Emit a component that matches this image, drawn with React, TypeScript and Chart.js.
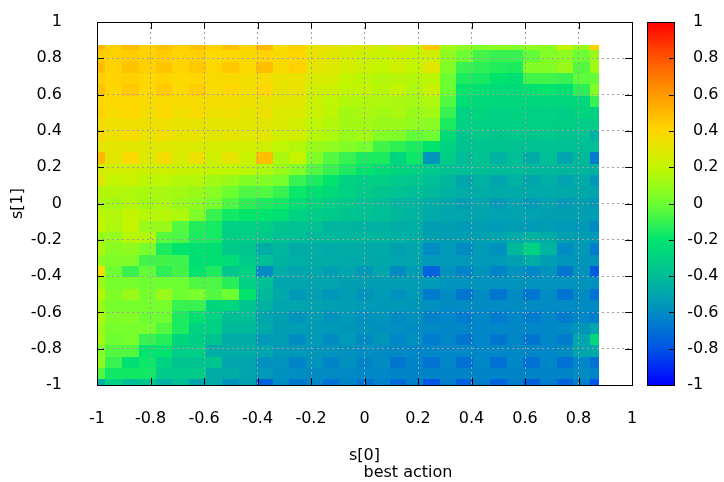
import { useEffect, useRef } from 'react';
import { Chart, registerables } from 'chart.js';

Chart.register(...registerables);

// Sample grid: s[0] columns (left to right) and s[1] rows (top to bottom)
const xCenters = [-1, -0.9375, -0.875, -0.8125, -0.75, -0.6875, -0.625, -0.5625, -0.5, -0.4375, -0.375, -0.3125, -0.25, -0.1875, -0.125, -0.0625, 0, 0.0625, 0.125, 0.1875, 0.25, 0.3125, 0.375, 0.4375, 0.5, 0.5625, 0.625, 0.6875, 0.75, 0.8125, 0.875];
const yCenters = [0.875, 0.8125, 0.75, 0.6875, 0.625, 0.5625, 0.5, 0.4375, 0.375, 0.3125, 0.25, 0.1875, 0.125, 0.0625, 0, -0.0625, -0.125, -0.1875, -0.25, -0.3125, -0.375, -0.4375, -0.5, -0.5625, -0.625, -0.6875, -0.75, -0.8125, -0.875, -0.9375, -1];

// Best-action value per grid row (one array per s[1] value)
const zRow00 = [0.5, 0.42, 0.48, 0.42, 0.47, 0.42, 0.47, 0.41, 0.47, 0.41, 0.5, 0.37, 0.42, 0.33, 0.32, 0.27, 0.28, 0.22, 0.28, 0.22, 0.45, 0.12, 0.08, 0.04, 0.06, 0.04, 0.08, 0.06, 0.2, 0.1, 0.42];
const zRow01 = [0.43, 0.42, 0.43, 0.42, 0.43, 0.41, 0.42, 0.39, 0.4, 0.38, 0.41, 0.38, 0.4, 0.33, 0.3, 0.26, 0.23, 0.22, 0.23, 0.21, 0.24, 0.08, 0.0, -0.08, -0.1, -0.1, -0.02, 0.05, 0.07, 0.0, 0.1];
const zRow02 = [0.49, 0.42, 0.47, 0.42, 0.46, 0.41, 0.45, 0.4, 0.45, 0.39, 0.48, 0.38, 0.42, 0.31, 0.29, 0.25, 0.23, 0.2, 0.24, 0.2, 0.3, 0.05, -0.1, -0.12, -0.14, -0.15, 0.05, 0.05, 0.1, -0.05, 0.12];
const zRow03 = [0.42, 0.41, 0.42, 0.4, 0.41, 0.39, 0.4, 0.38, 0.38, 0.36, 0.37, 0.33, 0.33, 0.27, 0.26, 0.2, 0.18, 0.16, 0.17, 0.16, 0.18, 0.0, -0.15, -0.16, -0.2, -0.22, -0.08, -0.08, -0.1, -0.03, -0.02];
const zRow04 = [0.47, 0.4, 0.45, 0.39, 0.44, 0.39, 0.43, 0.37, 0.4, 0.35, 0.4, 0.32, 0.33, 0.24, 0.23, 0.19, 0.2, 0.17, 0.2, 0.15, 0.22, 0.0, -0.2, -0.22, -0.25, -0.25, -0.22, -0.2, -0.22, -0.12, 0.05];
const zRow05 = [0.4, 0.39, 0.4, 0.38, 0.38, 0.37, 0.37, 0.36, 0.36, 0.34, 0.33, 0.31, 0.3, 0.22, 0.19, 0.16, 0.15, 0.15, 0.14, 0.13, 0.15, -0.05, -0.24, -0.26, -0.27, -0.27, -0.27, -0.27, -0.27, -0.27, -0.1];
const zRow06 = [0.42, 0.37, 0.4, 0.36, 0.39, 0.35, 0.38, 0.34, 0.35, 0.31, 0.34, 0.28, 0.28, 0.22, 0.18, 0.12, 0.14, 0.12, 0.14, 0.1, 0.12, -0.1, -0.3, -0.28, -0.3, -0.29, -0.31, -0.3, -0.32, -0.28, -0.3];
const zRow07 = [0.36, 0.35, 0.35, 0.34, 0.34, 0.33, 0.32, 0.31, 0.31, 0.3, 0.3, 0.27, 0.25, 0.19, 0.16, 0.12, 0.12, 0.1, 0.1, 0.08, 0.06, -0.15, -0.3, -0.3, -0.31, -0.3, -0.31, -0.31, -0.32, -0.32, -0.33];
const zRow08 = [0.38, 0.34, 0.37, 0.33, 0.35, 0.32, 0.33, 0.3, 0.32, 0.29, 0.31, 0.24, 0.25, 0.17, 0.15, 0.1, 0.12, 0.05, 0.04, -0.02, 0.0, -0.25, -0.36, -0.34, -0.36, -0.35, -0.36, -0.35, -0.37, -0.38, -0.45];
const zRow09 = [0.31, 0.31, 0.3, 0.29, 0.29, 0.28, 0.27, 0.26, 0.25, 0.24, 0.24, 0.19, 0.16, 0.1, 0.08, 0.05, 0.02, -0.08, -0.12, -0.15, -0.2, -0.3, -0.37, -0.37, -0.37, -0.38, -0.38, -0.38, -0.39, -0.4, -0.4];
const zRow10 = [0.5, 0.3, 0.39, 0.28, 0.36, 0.27, 0.34, 0.24, 0.32, 0.22, 0.48, 0.14, 0.2, 0.05, -0.05, -0.1, -0.15, -0.15, -0.28, -0.18, -0.56, -0.32, -0.41, -0.38, -0.45, -0.4, -0.47, -0.4, -0.5, -0.42, -0.66];
const zRow11 = [0.25, 0.25, 0.24, 0.23, 0.23, 0.22, 0.21, 0.2, 0.19, 0.18, 0.15, 0.1, 0.05, -0.05, -0.1, -0.15, -0.2, -0.25, -0.28, -0.3, -0.35, -0.38, -0.4, -0.4, -0.41, -0.41, -0.42, -0.42, -0.43, -0.43, -0.45];
const zRow12 = [0.3, 0.2, 0.22, 0.18, 0.19, 0.16, 0.16, 0.12, 0.1, 0.05, 0.05, 0.02, -0.1, -0.15, -0.2, -0.3, -0.32, -0.32, -0.34, -0.35, -0.4, -0.43, -0.5, -0.45, -0.5, -0.45, -0.5, -0.46, -0.51, -0.47, -0.56];
const zRow13 = [0.16, 0.16, 0.15, 0.14, 0.13, 0.12, 0.1, 0.06, 0.0, -0.06, -0.05, -0.1, -0.18, -0.22, -0.26, -0.3, -0.33, -0.36, -0.38, -0.4, -0.42, -0.45, -0.47, -0.47, -0.48, -0.48, -0.48, -0.48, -0.49, -0.49, -0.5];
const zRow14 = [0.14, 0.12, 0.16, 0.12, 0.14, 0.1, 0.07, 0.02, -0.06, -0.12, -0.15, -0.17, -0.24, -0.28, -0.32, -0.34, -0.38, -0.4, -0.44, -0.44, -0.47, -0.49, -0.53, -0.5, -0.54, -0.51, -0.54, -0.51, -0.55, -0.52, -0.56];
const zRow15 = [0.18, 0.16, 0.2, 0.17, 0.17, 0.15, 0.04, -0.1, -0.17, -0.19, -0.2, -0.22, -0.3, -0.32, -0.34, -0.37, -0.38, -0.4, -0.42, -0.44, -0.48, -0.5, -0.5, -0.5, -0.51, -0.51, -0.51, -0.52, -0.52, -0.52, -0.53];
const zRow16 = [0.2, 0.15, 0.2, 0.1, 0.1, -0.05, -0.14, -0.16, -0.3, -0.3, -0.32, -0.36, -0.38, -0.38, -0.44, -0.44, -0.45, -0.45, -0.47, -0.46, -0.53, -0.52, -0.54, -0.53, -0.54, -0.53, -0.54, -0.53, -0.55, -0.55, -0.6];
const zRow17 = [0.1, 0.09, 0.17, 0.16, -0.04, -0.06, -0.15, -0.16, -0.31, -0.32, -0.34, -0.38, -0.4, -0.42, -0.42, -0.43, -0.43, -0.44, -0.45, -0.46, -0.52, -0.53, -0.53, -0.52, -0.5, -0.48, -0.45, -0.47, -0.52, -0.53, -0.55];
const zRow18 = [0.15, 0.06, 0.08, 0.02, -0.15, -0.2, -0.22, -0.22, -0.34, -0.36, -0.47, -0.43, -0.48, -0.46, -0.48, -0.47, -0.48, -0.48, -0.52, -0.5, -0.6, -0.54, -0.6, -0.54, -0.58, -0.42, -0.3, -0.44, -0.6, -0.55, -0.65];
const zRow19 = [0.08, 0.04, 0.04, -0.08, -0.08, -0.09, -0.22, -0.22, -0.24, -0.33, -0.4, -0.45, -0.46, -0.47, -0.47, -0.48, -0.48, -0.49, -0.5, -0.5, -0.55, -0.55, -0.55, -0.55, -0.55, -0.52, -0.47, -0.53, -0.56, -0.56, -0.57];
const zRow20 = [0.35, 0.0, -0.1, -0.02, -0.12, -0.08, -0.2, -0.15, -0.35, -0.3, -0.6, -0.47, -0.5, -0.49, -0.53, -0.5, -0.55, -0.5, -0.6, -0.53, -0.75, -0.57, -0.63, -0.57, -0.63, -0.57, -0.62, -0.57, -0.68, -0.57, -0.78];
const zRow21 = [0.1, 0.02, 0.02, 0.0, 0.0, 0.0, -0.06, -0.06, -0.13, -0.3, -0.4, -0.5, -0.5, -0.5, -0.51, -0.52, -0.52, -0.53, -0.53, -0.53, -0.55, -0.57, -0.57, -0.57, -0.57, -0.57, -0.57, -0.57, -0.57, -0.57, -0.58];
const zRow22 = [0.17, 0.04, 0.1, 0.02, 0.1, 0.0, 0.03, -0.05, 0.0, -0.2, -0.42, -0.48, -0.55, -0.52, -0.56, -0.53, -0.57, -0.54, -0.58, -0.55, -0.66, -0.6, -0.68, -0.6, -0.68, -0.6, -0.68, -0.6, -0.69, -0.6, -0.7];
const zRow23 = [0.1, 0.02, 0.02, 0.02, 0.02, -0.1, -0.1, -0.27, -0.27, -0.37, -0.45, -0.5, -0.5, -0.51, -0.52, -0.53, -0.54, -0.55, -0.55, -0.56, -0.58, -0.6, -0.6, -0.6, -0.6, -0.6, -0.6, -0.6, -0.6, -0.6, -0.6];
const zRow24 = [0.15, 0.04, 0.05, 0.0, 0.0, -0.15, -0.22, -0.3, -0.4, -0.4, -0.5, -0.52, -0.57, -0.53, -0.57, -0.55, -0.58, -0.56, -0.6, -0.58, -0.64, -0.62, -0.66, -0.62, -0.66, -0.62, -0.66, -0.62, -0.66, -0.62, -0.66];
const zRow25 = [0.1, 0.02, 0.02, 0.02, -0.05, -0.15, -0.3, -0.3, -0.42, -0.42, -0.48, -0.53, -0.53, -0.54, -0.55, -0.56, -0.57, -0.58, -0.59, -0.6, -0.61, -0.62, -0.62, -0.62, -0.62, -0.62, -0.62, -0.62, -0.6, -0.56, -0.5];
const zRow26 = [0.12, 0.0, 0.02, -0.1, -0.13, -0.27, -0.32, -0.37, -0.47, -0.47, -0.55, -0.53, -0.6, -0.54, -0.6, -0.55, -0.6, -0.56, -0.62, -0.58, -0.66, -0.62, -0.68, -0.62, -0.68, -0.62, -0.68, -0.62, -0.66, -0.5, -0.27];
const zRow27 = [0.05, -0.05, -0.05, -0.2, -0.2, -0.32, -0.32, -0.47, -0.47, -0.47, -0.5, -0.55, -0.55, -0.56, -0.57, -0.58, -0.59, -0.6, -0.61, -0.62, -0.62, -0.62, -0.62, -0.62, -0.62, -0.62, -0.62, -0.62, -0.6, -0.5, -0.48];
const zRow28 = [0.08, -0.1, -0.22, -0.18, -0.3, -0.37, -0.37, -0.37, -0.5, -0.5, -0.58, -0.57, -0.63, -0.57, -0.63, -0.58, -0.63, -0.6, -0.68, -0.63, -0.69, -0.62, -0.7, -0.62, -0.7, -0.62, -0.7, -0.62, -0.7, -0.62, -0.7];
const zRow29 = [-0.05, -0.17, -0.17, -0.17, -0.33, -0.33, -0.33, -0.47, -0.47, -0.5, -0.55, -0.58, -0.59, -0.6, -0.6, -0.61, -0.62, -0.62, -0.63, -0.63, -0.63, -0.63, -0.63, -0.63, -0.63, -0.63, -0.63, -0.63, -0.63, -0.6, -0.63];
const zRow30 = [-0.45, -0.3, -0.4, -0.35, -0.45, -0.4, -0.5, -0.48, -0.58, -0.52, -0.75, -0.6, -0.68, -0.62, -0.7, -0.63, -0.7, -0.64, -0.72, -0.65, -0.8, -0.65, -0.75, -0.65, -0.75, -0.65, -0.75, -0.65, -0.75, -0.65, -0.8];

const zRows = [
  zRow00, zRow01, zRow02, zRow03, zRow04, zRow05, zRow06, zRow07, zRow08, zRow09, zRow10,
  zRow11, zRow12, zRow13, zRow14, zRow15, zRow16, zRow17, zRow18, zRow19, zRow20,
  zRow21, zRow22, zRow23, zRow24, zRow25, zRow26, zRow27, zRow28, zRow29, zRow30,
];

// Axis and colour-box ticks
const tickValues = [-1, -0.8, -0.6, -0.4, -0.2, 0, 0.2, 0.4, 0.6, 0.8, 1];
const tickLabels = ['-1', '-0.8', '-0.6', '-0.4', '-0.2', '0', '0.2', '0.4', '0.6', '0.8', '1'];

// Palette: value stops and their RGB colours
const paletteStops = [-1, -0.8, -0.6, -0.4, -0.2, 0, 0.2, 0.4, 0.6, 0.8, 1];
const paletteColors = [
  [0, 0, 255], [0, 85, 230], [0, 140, 195], [0, 190, 150], [0, 228, 110],
  [110, 255, 50], [195, 245, 0], [255, 215, 0], [255, 155, 0], [255, 85, 0], [255, 0, 0],
];

const FONT = '"DejaVu Sans", "Liberation Sans", sans-serif';

function paletteColor(v: number): string {
  const t = Math.max(paletteStops[0], Math.min(paletteStops[paletteStops.length - 1], v));
  let k = 0;
  while (k < paletteStops.length - 2 && t > paletteStops[k + 1]) k++;
  const f = (t - paletteStops[k]) / (paletteStops[k + 1] - paletteStops[k]);
  const a = paletteColors[k];
  const b = paletteColors[k + 1];
  const c = a.map((ch, n) => Math.round(ch + (b[n] - ch) * f));
  return `rgb(${c[0]},${c[1]},${c[2]})`;
}

// Paints the cells under the grid lines, using the chart's own scales
const heatmapPlugin = {
  id: 'heatmap',
  beforeDraw(chart: any) {
    const { ctx, scales } = chart;
    const xs = scales.x;
    const ys = scales.y;
    const halfX = (xCenters[1] - xCenters[0]) / 2;
    const halfY = (yCenters[0] - yCenters[1]) / 2;
    const xLo = xCenters[0];
    const xHi = xCenters[xCenters.length - 1];
    const yLo = yCenters[yCenters.length - 1];
    const yHi = yCenters[0];
    ctx.save();
    zRows.forEach((row, j) => {
      const yc = yCenters[j];
      const top = Math.round(ys.getPixelForValue(Math.min(yc + halfY, yHi)));
      const bottom = Math.round(ys.getPixelForValue(Math.max(yc - halfY, yLo)));
      row.forEach((v, i) => {
        const xc = xCenters[i];
        const left = Math.round(xs.getPixelForValue(Math.max(xc - halfX, xLo)));
        const right = Math.round(xs.getPixelForValue(Math.min(xc + halfX, xHi)));
        ctx.fillStyle = paletteColor(v);
        ctx.fillRect(left, top, right - left, bottom - top);
      });
    });
    ctx.restore();
  },
};

// Frame, inward tics, colour box and axis titles
const framePlugin = {
  id: 'frame',
  afterDraw(chart: any) {
    const { ctx, scales } = chart;
    const xs = scales.x;
    const ys = scales.y;
    const { left, right, top, bottom } = chart.chartArea;
    const tic = 7;
    ctx.save();
    ctx.strokeStyle = '#000';
    ctx.lineWidth = 1;
    ctx.strokeRect(left + 0.5, top + 0.5, right - left, bottom - top);
    ctx.beginPath();
    tickValues.forEach((v) => {
      const px = Math.round(xs.getPixelForValue(v)) + 0.5;
      ctx.moveTo(px, bottom);
      ctx.lineTo(px, bottom - tic);
      ctx.moveTo(px, top);
      ctx.lineTo(px, top + tic);
      const py = Math.round(ys.getPixelForValue(v)) + 0.5;
      ctx.moveTo(left, py);
      ctx.lineTo(left + tic, py);
      ctx.moveTo(right, py);
      ctx.lineTo(right - tic, py);
    });
    ctx.stroke();

    // colour box on the right, sharing the vertical scale range
    const cbLeft = 647;
    const cbRight = 674;
    const cbTop = Math.round(ys.getPixelForValue(1));
    const cbBottom = Math.round(ys.getPixelForValue(-1));
    for (let py = cbTop; py < cbBottom; py++) {
      ctx.fillStyle = paletteColor(ys.getValueForPixel(py + 0.5));
      ctx.fillRect(cbLeft, py, cbRight - cbLeft, 1);
    }
    ctx.strokeRect(cbLeft + 0.5, cbTop + 0.5, cbRight - cbLeft, cbBottom - cbTop);
    ctx.beginPath();
    tickValues.forEach((v) => {
      const py = Math.round(ys.getPixelForValue(v)) + 0.5;
      ctx.moveTo(cbRight, py);
      ctx.lineTo(cbRight - 5, py);
    });
    ctx.stroke();

    ctx.fillStyle = '#000';
    ctx.font = `16px ${FONT}`;
    ctx.textBaseline = 'middle';
    ctx.textAlign = 'left';
    const minusW = ctx.measureText('-').width;
    tickValues.forEach((v, i) => {
      const py = ys.getPixelForValue(v);
      ctx.fillText(tickLabels[i], 693 - (v < 0 ? minusW : 0), py);
    });

    // axis titles
    ctx.textAlign = 'center';
    ctx.fillText('s[0]', (left + right) / 2, 456);
    ctx.fillText('best action', 408, 473);
    ctx.save();
    ctx.translate(18, (top + bottom) / 2);
    ctx.rotate(-Math.PI / 2);
    ctx.fillText('s[1]', 0, 0);
    ctx.restore();
    ctx.restore();
  },
};

export default function App() {
  const canvasRef = useRef<HTMLCanvasElement | null>(null);

  useEffect(() => {
    const canvas = canvasRef.current;
    if (!canvas) return;
    const tickFont = { family: FONT, size: 16 };
    const chart = new Chart(canvas, {
      type: 'scatter',
      data: { datasets: [] },
      options: {
        responsive: false,
        animation: false,
        devicePixelRatio: 1,
        layout: { padding: { left: 0, top: 22, right: 92, bottom: 0 } },
        plugins: { legend: { display: false }, tooltip: { enabled: false } },
        scales: {
          x: {
            type: 'linear',
            position: 'bottom',
            min: -1,
            max: 1,
            afterFit: (s: any) => {
              s.height = 97;
              s.paddingLeft = 0;
              s.paddingRight = 0;
            },
            afterBuildTicks: (s: any) => { s.ticks = tickValues.map((v) => ({ value: v })); },
            ticks: {
              callback: (_v: any, i: number) => tickLabels[i],
              padding: 24,
              color: '#000',
              font: tickFont,
              maxRotation: 0,
              autoSkip: false,
            },
            grid: { color: '#a0a0a0', lineWidth: 1, drawTicks: false },
            border: { display: false, dash: [2, 3] },
          },
          y: {
            type: 'linear',
            position: 'left',
            min: -1,
            max: 1,
            afterFit: (s: any) => {
              s.width = 97;
              s.paddingTop = 0;
              s.paddingBottom = 0;
            },
            afterBuildTicks: (s: any) => { s.ticks = tickValues.map((v) => ({ value: v })); },
            ticks: {
              callback: (_v: any, i: number) => tickLabels[i],
              padding: 35,
              color: '#000',
              font: tickFont,
              autoSkip: false,
            },
            grid: { color: '#a0a0a0', lineWidth: 1, drawTicks: false },
            border: { display: false, dash: [2, 3] },
          },
        },
      },
      plugins: [heatmapPlugin, framePlugin],
    });
    return () => chart.destroy();
  }, []);

  return (
    <canvas
      ref={canvasRef}
      width={724}
      height={482}
      style={{ position: 'absolute', left: 0, top: 0, display: 'block' }}
    />
  );
}
